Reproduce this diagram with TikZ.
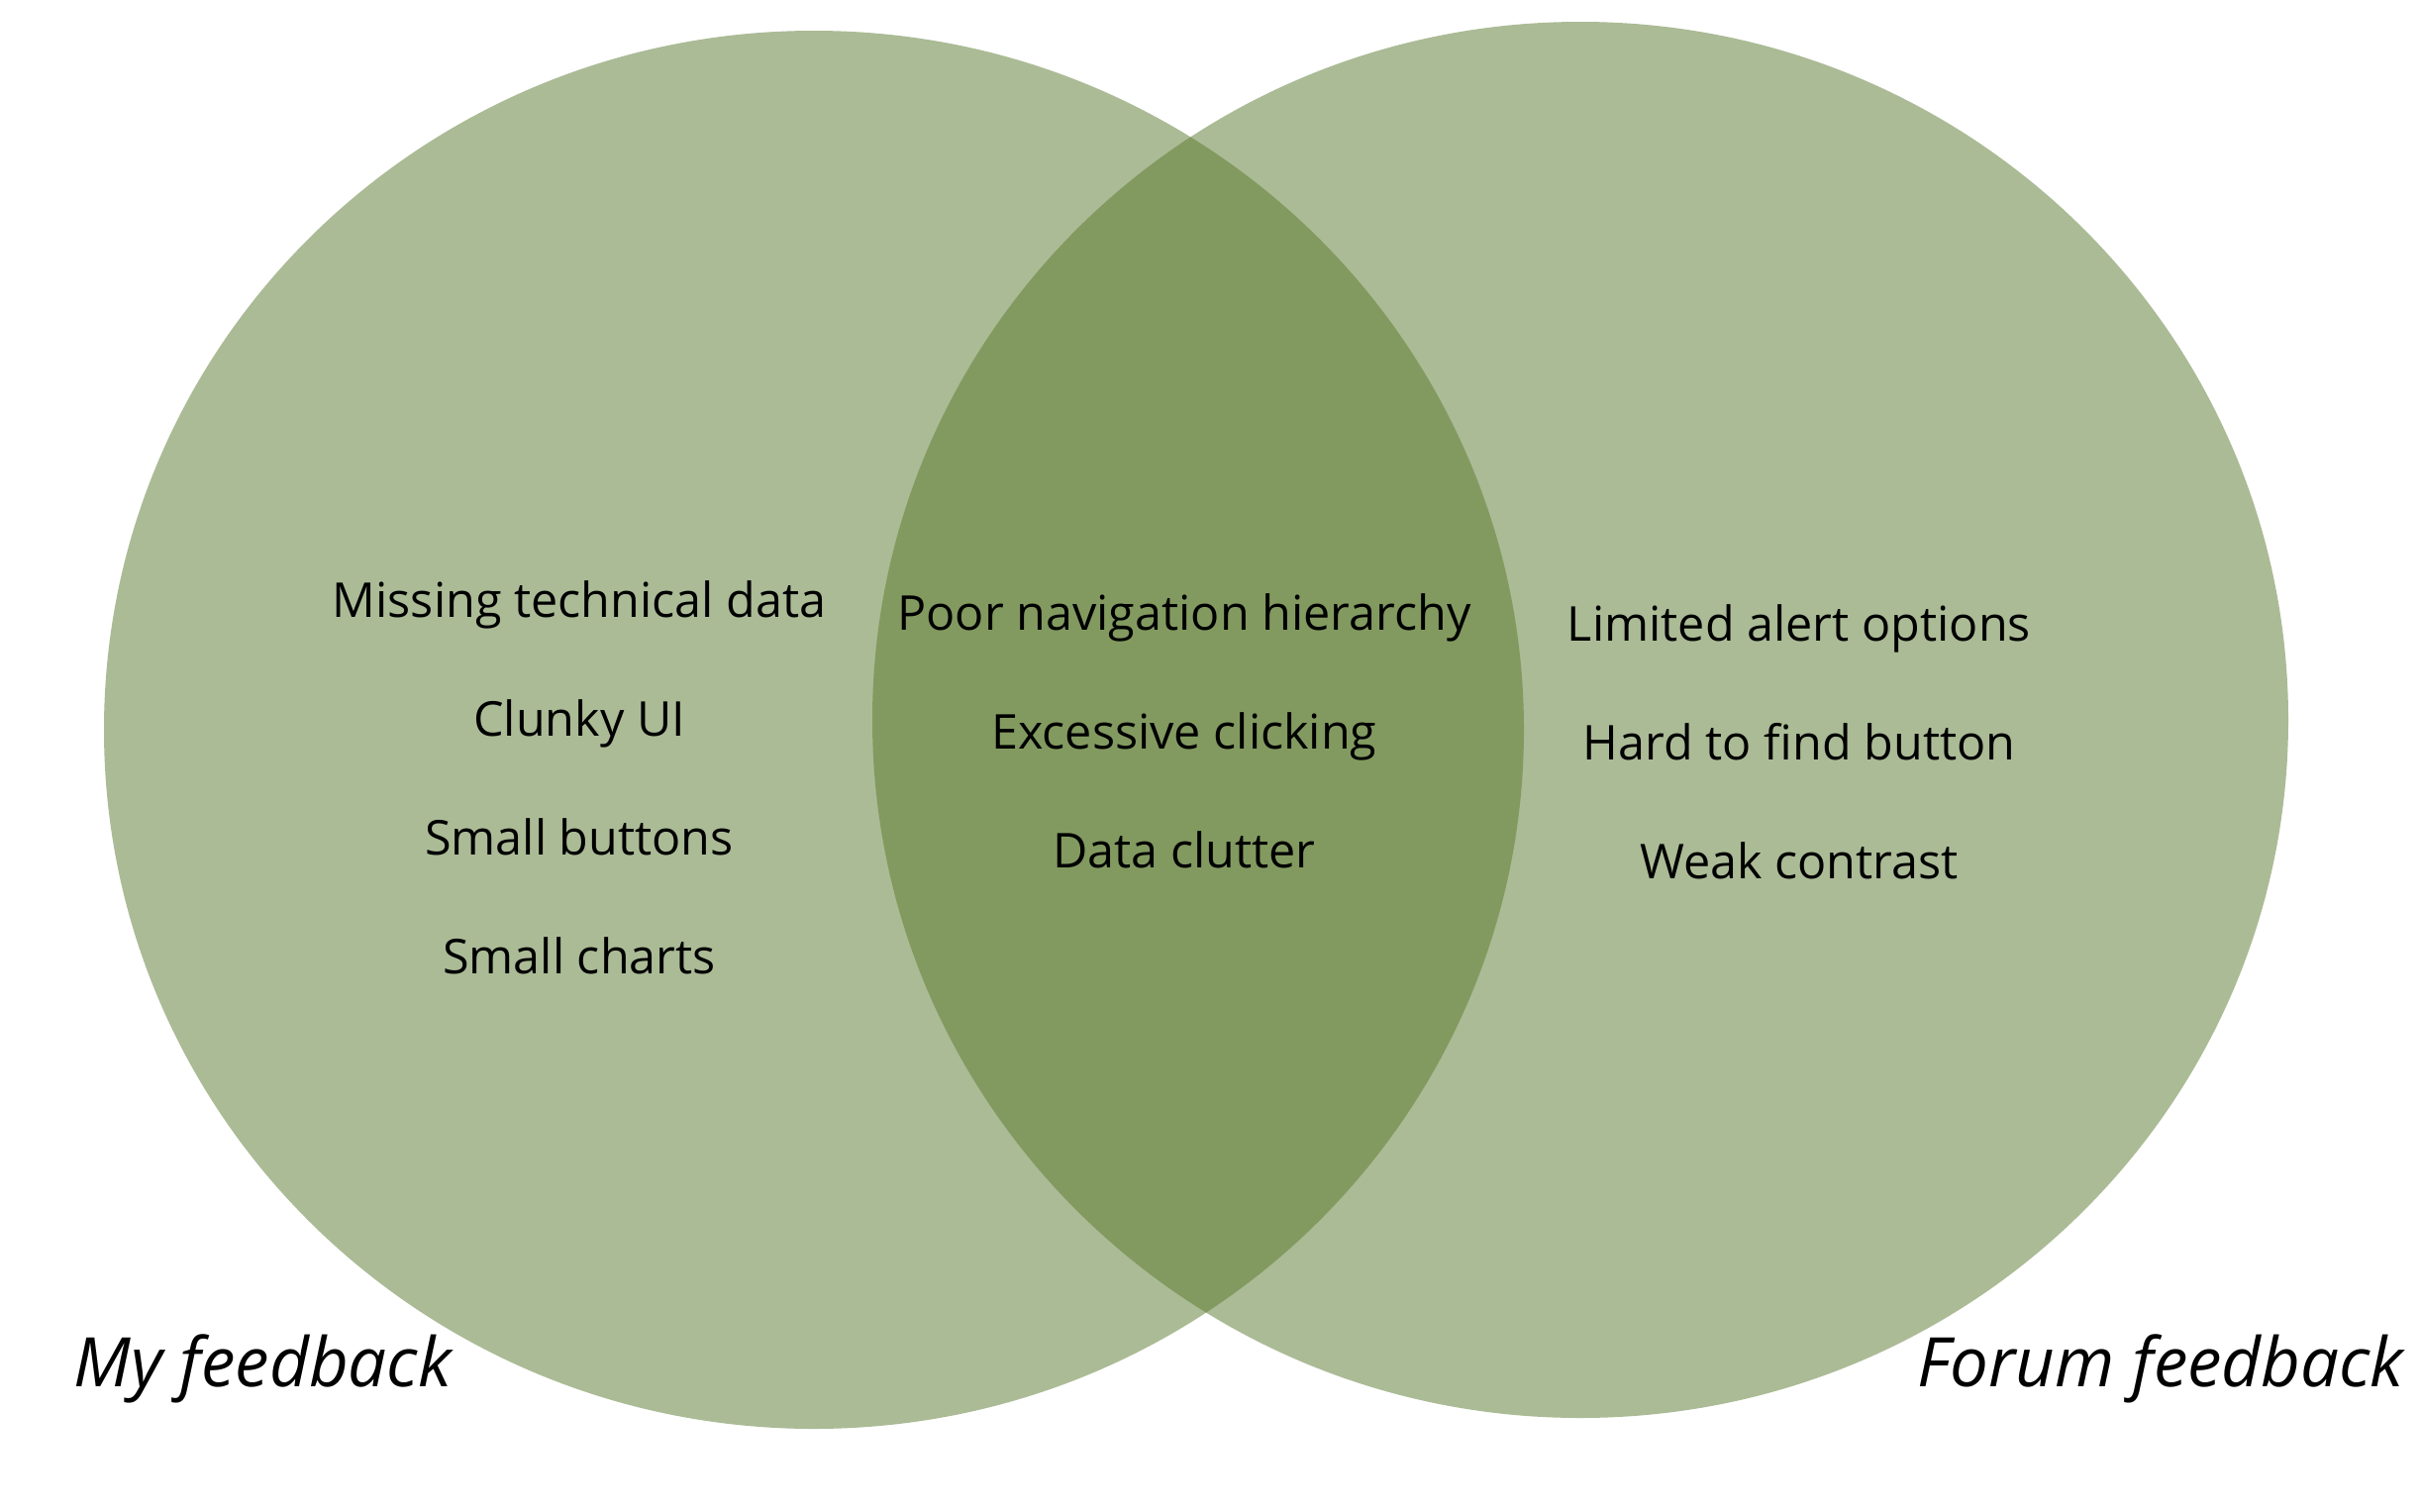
\documentclass[tikz,border=0pt]{standalone}
\usepackage{fontspec}
\setmainfont{Open Sans}
\definecolor{lightg}{HTML}{ABBB96}
\definecolor{darkg}{HTML}{829A60}
\begin{document}
\begin{tikzpicture}[x=0.4pt,y=-0.4pt,
  item/.style={anchor=base,inner sep=0pt,font=\fontsize{19.4}{22}\selectfont,text=black},
  setlabel/.style={anchor=base west,inner sep=0pt,font=\fontsize{27.6}{32}\selectfont\itshape,text=black}]
\useasboundingbox[fill=white] (0,0) rectangle (2445,1526);
\fill[lightg] (822,737) ellipse [x radius=717, y radius=706];
\fill[lightg] (1596,727) ellipse [x radius=715, y radius=705];
\begin{scope}
\clip (822,737) ellipse [x radius=717, y radius=706];
\fill[darkg] (1596,727) ellipse [x radius=715, y radius=705];
\end{scope}
\node[item] (l1) at (585,623) {Missing technical data};
\node[item] (l2) at (585,743) {Clunky UI};
\node[item] (l3) at (585,863) {Small buttons};
\node[item] (l4) at (585,983) {Small charts};
\node[item] (m1) at (1196,636) {Poor navigation hierarchy};
\node[item] (m2) at (1196,756) {Excessive clicking};
\node[item] (m3) at (1196,876) {Data clutter};
\node[item] (r1) at (1817,647) {Limited alert options};
\node[item] (r2) at (1817,767) {Hard to find button};
\node[item] (r3) at (1817,887) {Weak contrast};
\node[setlabel] (lab1) at (74,1400) {My feedback};
\node[setlabel,anchor=base east] (lab2) at (2428,1400) {Forum feedback};
\end{tikzpicture}
\end{document}
